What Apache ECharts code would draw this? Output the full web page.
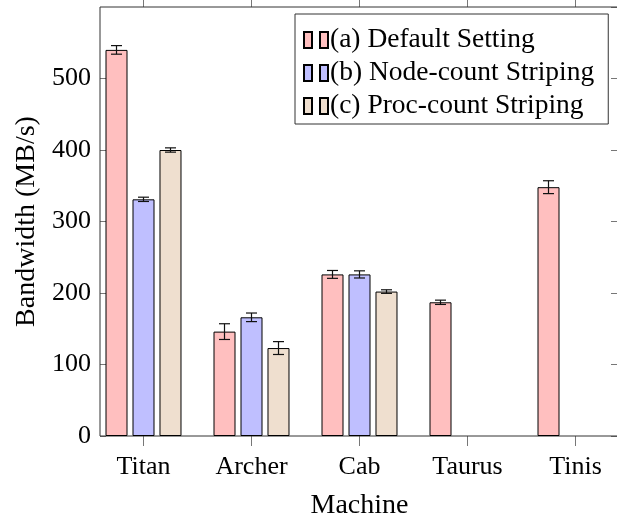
<!DOCTYPE html>
<html>
<head>
<meta charset="utf-8">
<script src="https://cdn.jsdelivr.net/npm/echarts@6/dist/echarts.min.js"></script>
<style>
html,body{margin:0;padding:0;background:#fff;}
#chart{width:617px;height:516px;}
</style>
</head>
<body>
<div id="chart"></div>
<script>
const categories = ['Titan', 'Archer', 'Cab', 'Taurus', 'Tinis'];
const seriesNames = ['(a) Default Setting', '(b) Node-count Striping', '(c) Proc-count Striping'];
const defaultVals = [540, 146, 226, 187, 348];
const defaultErr  = [6, 11, 5.5, 3, 9];
const nodeVals    = [331, 166, 226, null, null];
const nodeErr     = [3, 6, 5, null, null];
const procVals    = [400, 123, 202, null, null];
const procErr     = [3, 9, 2.5, null, null];
const yMin = 0, yMax = 600, yStep = 100;

const colors = ['#ffbfbf', '#bfbfff', '#efdfcf'];
const FONT = 'Liberation Serif';
const BAR_W = 22, BAR_GAP_PX = 5;

const allVals = [defaultVals, nodeVals, procVals];
const allErr = [defaultErr, nodeErr, procErr];

const chart = echarts.init(document.getElementById('chart'), null, {renderer: 'canvas'});

const series = [];
allVals.forEach((vals, si) => {
  series.push({
    name: seriesNames[si],
    type: 'bar',
    xAxisIndex: 1, yAxisIndex: 2,
    barWidth: BAR_W,
    barGap: (BAR_GAP_PX / BAR_W * 100).toFixed(1) + '%',
    itemStyle: {color: colors[si], borderColor: '#000', borderWidth: 1},
    data: vals.map(v => v == null ? '-' : v),
    z: 3
  });
});
allVals.forEach((vals, si) => {
  const errData = [];
  vals.forEach((v, i) => {
    if (v != null) errData.push([i, v - allErr[si][i], v + allErr[si][i]]);
  });
  const offset = (si - 1) * (BAR_W + BAR_GAP_PX);
  series.push({
    name: 'err' + si,
    type: 'custom',
    xAxisIndex: 1, yAxisIndex: 2,
    z: 5,
    encode: {x: 0, y: [1, 2]},
    data: errData,
    renderItem: function (params, api) {
      const x = api.value(0);
      const lo = api.coord([x, api.value(1)]);
      const hi = api.coord([x, api.value(2)]);
      const cx = lo[0] + offset;
      const hw = 5.5;
      const st = {stroke: '#111', lineWidth: 1.2};
      return {
        type: 'group',
        children: [
          {type: 'line', shape: {x1: cx, y1: lo[1], x2: cx, y2: hi[1]}, style: st},
          {type: 'line', shape: {x1: cx - hw, y1: lo[1], x2: cx + hw, y2: lo[1]}, style: st},
          {type: 'line', shape: {x1: cx - hw, y1: hi[1], x2: cx + hw, y2: hi[1]}, style: st}
        ]
      };
    }
  });
});

const option = {
  animation: false,
  backgroundColor: '#fff',
  textStyle: {fontFamily: FONT},
  grid: [
    {left: 100, top: 7, width: 520, height: 429, show: true, borderColor: '#333', borderWidth: 1,
      backgroundColor: 'transparent', containLabel: false, outerBoundsMode: 'none', z: 1},
    {left: 89.5, top: 7, width: 540, height: 429, show: false, containLabel: false, outerBoundsMode: 'none'}
  ],
  xAxis: [
    {gridIndex: 0, type: 'value', show: false, min: 0, max: 1},
    {gridIndex: 1, type: 'category', data: categories, position: 'bottom',
      axisLine: {show: false},
      axisTick: {show: true, alignWithLabel: true, inside: false, length: 10, lineStyle: {color: '#777'}},
      axisLabel: {fontFamily: FONT, fontSize: 26, color: '#000', margin: 18},
      name: 'Machine', nameLocation: 'middle', nameGap: 56,
      nameTextStyle: {fontFamily: FONT, fontSize: 28, color: '#000'}
    },
    {gridIndex: 1, type: 'category', data: categories, position: 'top',
      axisLine: {show: false},
      axisTick: {show: true, alignWithLabel: true, inside: false, length: 8, lineStyle: {color: '#777'}},
      axisLabel: {show: false}
    }
  ],
  yAxis: [
    {gridIndex: 0, type: 'value', position: 'left', min: yMin, max: yMax, interval: yStep,
      axisLine: {show: false},
      axisTick: {show: true, inside: true, length: 6, lineStyle: {color: '#777'}},
      splitLine: {show: false},
      axisLabel: {fontFamily: FONT, fontSize: 26, color: '#000', margin: 9, showMaxLabel: false},
      name: 'Bandwidth (MB/s)', nameLocation: 'middle', nameGap: 58,
      nameTextStyle: {fontFamily: FONT, fontSize: 28, color: '#000'}
    },
    {gridIndex: 0, type: 'value', position: 'right', min: yMin, max: yMax, interval: yStep,
      axisLine: {show: false},
      axisTick: {show: true, inside: true, length: 9, lineStyle: {color: '#777'}},
      splitLine: {show: false},
      axisLabel: {show: false}
    },
    {gridIndex: 1, type: 'value', min: yMin, max: yMax, interval: yStep, show: false}
  ],
  legend: {
    data: seriesNames,
    orient: 'vertical',
    left: 295, top: 14,
    padding: [12, 14, 4, 8],
    itemGap: 5,
    itemWidth: 24, itemHeight: 16,
    icon: 'path://M0,0H8V16H0Z M16,0H24V16H16Z',
    backgroundColor: '#fff',
    borderColor: '#333', borderWidth: 1,
    textStyle: {fontFamily: FONT, fontSize: 27.5, color: '#000', lineHeight: 28, padding: [0, 0, 0, -3]},
    z: 10
  },
  series: series
};
chart.setOption(option);
</script>
</body>
</html>
